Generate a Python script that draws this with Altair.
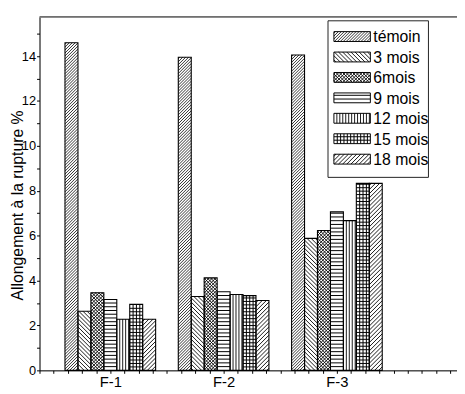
import altair as alt
import pandas as pd
import numpy as np

# ---------------- data ----------------
groups = ["F-1", "F-2", "F-3"]
series = ["témoin", "3 mois", "6mois", "9 mois", "12 mois", "15 mois", "18 mois"]
vals_f1 = [14.6, 2.63, 3.46, 3.16, 2.28, 2.94, 2.28]
vals_f2 = [13.95, 3.29, 4.12, 3.50, 3.38, 3.33, 3.11]
vals_f3 = [14.05, 5.88, 6.23, 7.06, 6.67, 8.33, 8.33]
y_tick_values = list(range(0, 16))

# ---------------- style ----------------
# hatch families per series: (type, spacing px, stroke width)
patterns = {
    "témoin": [("d1", 3.0, 0.8)],
    "3 mois": [("d2", 4.2, 0.9)],
    "6mois": [("d1", 3.4, 0.9), ("d2", 3.4, 0.9)],
    "9 mois": [("h", 3.8, 1.0)],
    "12 mois": [("v", 3.0, 0.9)],
    "15 mois": [("h", 3.5, 1.0), ("v", 3.4, 1.0)],
    "18 mois": [("d1", 4.2, 0.9)],
}

W, H = 424, 359
XD = [0.375, 4.06]
YD = [0, 15.75]
KX = W / (XD[1] - XD[0])
KY = H / (YD[1] - YD[0])
BW = 0.8 / len(series)

# legend layout (plot pixels)
LBX0, LBX1, LBY0, LBY1 = 293, 395, 4, 163
LSX0, LSX1 = 299, 336
LSY0, LSTEP, LSH = 20, 20.75, 10
LTX = 339

# ---------------- tables ----------------
values = [vals_f1, vals_f2, vals_f3]
bar_rows, fam_rows, leg_rows = [], [], []
for gi, g in enumerate(groups):
    for si, s in enumerate(series):
        v = values[gi][si]
        bar_rows.append({"kind": "bar", "g": gi, "s": si, "series": s, "v": v})
        for (pt, sp, sw) in patterns[s]:
            fam_rows.append({"kind": "bar", "g": gi, "s": si, "v": v, "ptype": pt, "sp": sp, "sw": sw})
for si, s in enumerate(series):
    leg_rows.append({"kind": "leg", "g": -1, "s": si, "series": s, "v": 0})
    for (pt, sp, sw) in patterns[s]:
        fam_rows.append({"kind": "leg", "g": -1, "s": si, "v": 0, "ptype": pt, "sp": sp, "sw": sw})

bars_df = pd.DataFrame(bar_rows)
fam_df = pd.DataFrame(fam_rows)
leg_df = pd.DataFrame(leg_rows)

# ---------------- scales / axes ----------------
XS = alt.Scale(domain=XD, nice=False, zero=False)
YS = alt.Scale(domain=YD, nice=False, zero=False)
x_ticks = [float(t) for t in np.arange(XD[0], 4.0001, 0.125)]
lab_expr = " : ".join(f"datum.value == {i+1} ? '{g}'" for i, g in enumerate(groups)) + " : ''"
XAX = alt.Axis(values=x_ticks, labelExpr=lab_expr, title=None, grid=False, tickSize=3,
               labelFontSize=15, labelPadding=1, labelOverlap=False, labelFlush=False,
               domainColor="black", tickColor="black", labelColor="black", domainWidth=1)
YAX = alt.Axis(values=y_tick_values, labelExpr="datum.value % 2 == 0 ? datum.label : ''",
               title="Allongement à la rupture %", titleFontSize=16, titleFontWeight="normal",
               titleColor="black", titleX=-14, titleY=191, tickSize=3, labelFontSize=13,
               labelPadding=1, grid=False, domainColor="black", tickColor="black",
               labelColor="black", labelOverlap=False, labelFlush=False)


def X(f):
    return alt.X(f, type="quantitative", scale=XS, axis=XAX)


def Y(f):
    return alt.Y(f, type="quantitative", scale=YS, axis=YAX)


geom = dict(
    lyc=f"{YD[1]} - ({LSY0} + datum.s*{LSTEP})/{KY}",
    xl=f"datum.kind=='bar' ? (datum.g + 1 - 0.4 + datum.s*{BW}) : ({XD[0]} + {LSX0}/{KX})",
    xr=f"datum.kind=='bar' ? (datum.g + 1 - 0.4 + (datum.s+1)*{BW}) : ({XD[0]} + {LSX1}/{KX})",
    yb=f"datum.kind=='bar' ? 0 : datum.lyc - {LSH/2}/{KY}",
    yt=f"datum.kind=='bar' ? datum.v : datum.lyc + {LSH/2}/{KY}",
    ltx=f"{XD[0]} + {LTX}/{KX}",
)

# hatch layer
hatch = (
    alt.Chart(fam_df)
    .transform_calculate(**geom)
    .transform_calculate(
        wpx=f"(datum.xr - datum.xl)*{KX}",
        hpx=f"(datum.yt - datum.yb)*{KY}",
    )
    .transform_calculate(
        n="datum.ptype=='v' ? floor(datum.wpx/datum.sp)+1 : datum.ptype=='h' ? floor(datum.hpx/datum.sp)+1 : ceil((datum.wpx+datum.hpx)/datum.sp)+1",
    )
    .transform_calculate(seq="sequence(0, datum.n)")
    .transform_flatten(["seq"])
    .transform_calculate(
        c="datum.ptype=='d1' ? -datum.hpx + (datum.seq+0.5)*datum.sp : (datum.seq+0.5)*datum.sp",
    )
    .transform_calculate(
        tmin="datum.ptype=='d1' ? max(0, -datum.c) : max(0, datum.c - datum.wpx)",
        tmax="datum.ptype=='d1' ? min(datum.hpx, datum.wpx - datum.c) : min(datum.hpx, datum.c)",
        lp="(datum.seq+1)*datum.sp",
    )
    .transform_calculate(
        ax="datum.ptype=='v' ? datum.lp : datum.ptype=='h' ? 0 : datum.ptype=='d1' ? datum.c + datum.tmin : datum.c - datum.tmin",
        ay="datum.ptype=='v' ? 0 : datum.ptype=='h' ? datum.lp : datum.tmin",
        bx="datum.ptype=='v' ? datum.lp : datum.ptype=='h' ? datum.wpx : datum.ptype=='d1' ? datum.c + datum.tmax : datum.c - datum.tmax",
        by="datum.ptype=='v' ? datum.hpx : datum.ptype=='h' ? datum.lp : datum.tmax",
        ok="datum.ptype=='v' ? (datum.lp < datum.wpx - 0.7) : datum.ptype=='h' ? (datum.lp < datum.hpx - 0.7) : (datum.tmax - datum.tmin > 0.3)",
    )
    .transform_filter("datum.ok")
    .transform_calculate(
        X1=f"datum.xl + datum.ax/{KX}",
        Y1=f"datum.yb + datum.ay/{KY}",
        X2=f"datum.xl + datum.bx/{KX}",
        Y2=f"datum.yb + datum.by/{KY}",
    )
    .mark_rule(color="black")
    .encode(
        x=X("X1"), x2=alt.X2("X2"), y=Y("Y1"), y2=alt.Y2("Y2"),
        strokeWidth=alt.StrokeWidth("sw:Q", scale=None),
    )
)

outlines = (
    alt.Chart(bars_df)
    .transform_calculate(**geom)
    .mark_rect(fillOpacity=0, stroke="black", strokeWidth=1.1)
    .encode(x=X("xl"), x2=alt.X2("xr"), y=Y("yb"), y2=alt.Y2("yt"))
)

one = alt.Data(values=[{"a": 0}])
leg_box = alt.Chart(one).mark_rect(fill="white", stroke="#222", strokeWidth=1).encode(
    x=alt.value(LBX0), x2=alt.value(LBX1), y=alt.value(LBY0), y2=alt.value(LBY1)
)

leg_outline = (
    alt.Chart(leg_df)
    .transform_calculate(**geom)
    .mark_rect(fillOpacity=0, stroke="black", strokeWidth=1)
    .encode(x=X("xl"), x2=alt.X2("xr"), y=Y("yb"), y2=alt.Y2("yt"))
)

leg_text = (
    alt.Chart(leg_df)
    .transform_calculate(**geom)
    .mark_text(align="left", baseline="middle", fontSize=16, color="black", dy=1)
    .encode(x=X("ltx"), y=Y("lyc"), text="series:N")
)

top_border = alt.Chart(one).mark_rule(color="#707070", strokeWidth=2).encode(
    x=alt.value(0), x2=alt.value(W), y=alt.value(0)
)

chart = (
    alt.layer(leg_box, hatch, outlines, leg_outline, leg_text, top_border)
    .properties(
        width=W, height=H,
        padding={"left": 32, "top": 6, "right": 0, "bottom": 20},
        autosize=alt.AutoSizeParams(type="none"),
    )
    .configure_view(stroke=None)
    .configure(font="Liberation Sans")
)

chart.save("out.html", embed_options={"renderer": "svg", "actions": False})
